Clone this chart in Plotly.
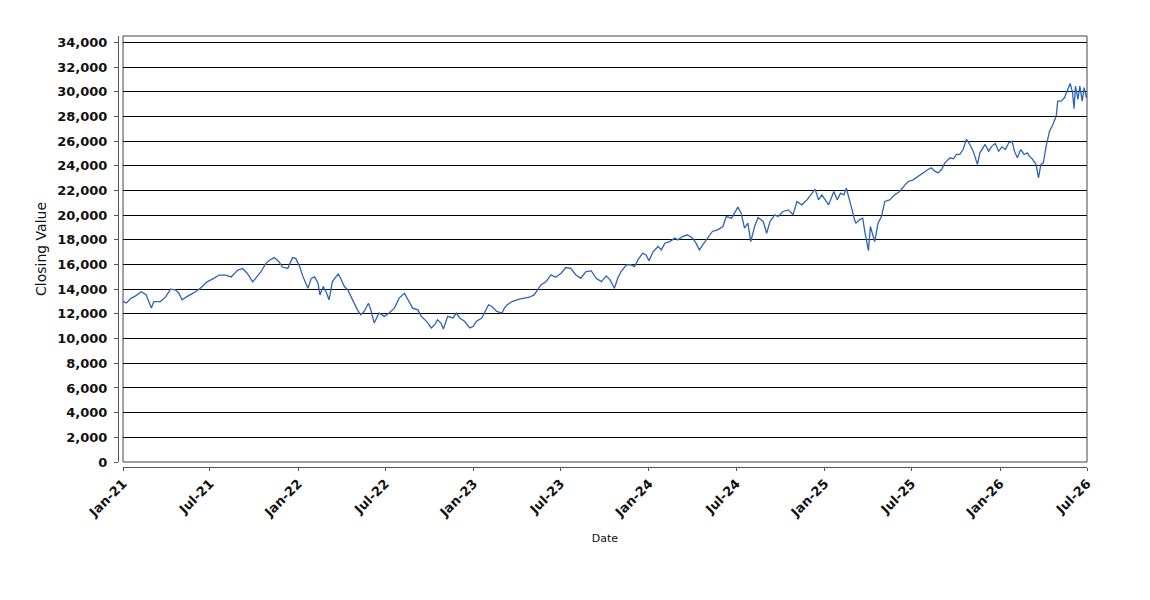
import plotly.graph_objects as go

# closing values, by date
dates_2021 = [
    "2021-01-01", "2021-01-08", "2021-01-18", "2021-01-25", "2021-02-08", "2021-02-18",
    "2021-03-01", "2021-03-06", "2021-03-20", "2021-03-31", "2021-04-10", "2021-04-20",
    "2021-04-27", "2021-05-04", "2021-05-14", "2021-05-28", "2021-06-11", "2021-06-25",
    "2021-07-09", "2021-07-20", "2021-08-03", "2021-08-14", "2021-08-28", "2021-09-07",
    "2021-09-17", "2021-09-28", "2021-10-04", "2021-10-15", "2021-10-25", "2021-11-02",
    "2021-11-12", "2021-11-22", "2021-11-29", "2021-12-10", "2021-12-20", "2021-12-27",
]
close_2021 = [
    13010, 12880, 13280, 13400, 13800, 13550,
    12480, 13000, 13000, 13400, 14000, 13950,
    13700, 13150, 13400, 13700, 14080, 14600,
    14880, 15150, 15150, 15000, 15550, 15680,
    15280, 14600, 14880, 15400, 16080, 16350,
    16560, 16210, 15800, 15680, 16560, 16480,
]

dates_2022 = [
    "2022-01-04", "2022-01-11", "2022-01-21", "2022-01-28", "2022-02-04", "2022-02-11",
    "2022-02-15", "2022-02-22", "2022-03-01", "2022-03-06", "2022-03-13", "2022-03-20",
    "2022-03-25", "2022-03-30", "2022-04-07", "2022-04-14", "2022-04-21", "2022-04-28",
    "2022-05-04", "2022-05-11", "2022-05-18", "2022-05-27", "2022-06-01", "2022-06-08",
    "2022-06-18", "2022-06-29", "2022-07-09", "2022-07-20", "2022-07-30", "2022-08-10",
    "2022-08-17", "2022-08-27", "2022-09-07", "2022-09-14", "2022-09-25", "2022-10-05",
    "2022-10-12", "2022-10-18", "2022-10-25", "2022-10-30", "2022-11-08", "2022-11-19",
    "2022-11-26", "2022-12-03", "2022-12-13", "2022-12-24", "2022-12-31",
]
close_2022 = [
    15800, 15000, 14080, 14880, 15000, 14480,
    13540, 14215, 13680, 13140, 14620, 15020,
    15240, 14890, 14215, 13950, 13410, 12870,
    12330, 11930, 12200, 12870, 12330, 11260,
    12070, 11800, 12070, 12470, 13280, 13680,
    13140, 12470, 12330, 11800, 11400, 10860,
    11130, 11530, 11260, 10780, 11800, 11670,
    12070, 11670, 11400, 10860, 11000,
]

dates_2023 = [
    "2023-01-07", "2023-01-18", "2023-01-25", "2023-02-01", "2023-02-08", "2023-02-18",
    "2023-03-01", "2023-03-06", "2023-03-12", "2023-03-22", "2023-04-06", "2023-04-16",
    "2023-04-27", "2023-05-07", "2023-05-14", "2023-05-21", "2023-06-01", "2023-06-11",
    "2023-06-21", "2023-07-02", "2023-07-12", "2023-07-22", "2023-08-02", "2023-08-12",
    "2023-08-23", "2023-09-03", "2023-09-13", "2023-09-24", "2023-10-04", "2023-10-12",
    "2023-10-21", "2023-10-28", "2023-11-04", "2023-11-15", "2023-11-25", "2023-12-02",
    "2023-12-09", "2023-12-19", "2023-12-26",
]
close_2023 = [
    11400, 11670, 12200, 12740, 12600, 12200,
    12070, 12470, 12740, 13000, 13190, 13270,
    13350, 13540, 13950, 14350, 14620, 15160,
    14970, 15300, 15760, 15700, 15160, 14890,
    15430, 15490, 14890, 14620, 15080, 14760,
    14080, 14890, 15430, 15970, 15970, 15840,
    16380, 16920, 16780,
]

dates_2024 = [
    "2024-01-01", "2024-01-10", "2024-01-20", "2024-01-27", "2024-02-03", "2024-02-13",
    "2024-02-24", "2024-03-01", "2024-03-11", "2024-03-21", "2024-04-01", "2024-04-08",
    "2024-04-15", "2024-04-22", "2024-05-02", "2024-05-12", "2024-05-23", "2024-06-03",
    "2024-06-10", "2024-06-21", "2024-07-01", "2024-07-04", "2024-07-11", "2024-07-18",
    "2024-07-25", "2024-07-31", "2024-08-08", "2024-08-15", "2024-08-26", "2024-09-02",
    "2024-09-09", "2024-09-19", "2024-09-26", "2024-10-06", "2024-10-17", "2024-10-27",
    "2024-11-04", "2024-11-14", "2024-11-25", "2024-12-05", "2024-12-12", "2024-12-19",
    "2024-12-26",
]
close_2024 = [
    16320, 17050, 17460, 17190, 17730, 17860,
    18140, 18000, 18270, 18410, 18140, 17730,
    17190, 17600, 18140, 18680, 18810, 19080,
    19890, 19760, 20430, 20650, 20160, 18950,
    19350, 17860, 19080, 19810, 19490, 18540,
    19490, 20030, 19890, 20300, 20430, 20030,
    21110, 20840, 21240, 21780, 22110, 21240,
    21650,
]

dates_2025 = [
    "2025-01-02", "2025-01-09", "2025-01-20", "2025-01-27", "2025-02-03", "2025-02-10",
    "2025-02-15", "2025-02-20", "2025-02-27", "2025-03-04", "2025-03-07", "2025-03-14",
    "2025-03-21", "2025-03-26", "2025-03-30", "2025-04-02", "2025-04-06", "2025-04-10",
    "2025-04-15", "2025-04-22", "2025-04-29", "2025-05-06", "2025-05-16", "2025-05-27",
    "2025-06-06", "2025-06-17", "2025-06-24", "2025-07-04", "2025-07-14", "2025-07-28",
    "2025-08-04", "2025-08-11", "2025-08-18", "2025-08-25", "2025-09-01", "2025-09-08",
    "2025-09-19", "2025-09-26", "2025-10-02", "2025-10-09", "2025-10-16", "2025-10-23",
    "2025-10-30", "2025-11-06", "2025-11-15", "2025-11-20", "2025-12-01", "2025-12-08",
    "2025-12-15", "2025-12-22", "2025-12-29",
]
close_2025 = [
    21240, 20840, 21920, 21240, 21780, 21650,
    22190, 21510, 20430, 19620, 19350, 19620,
    19760, 18540, 17590, 17130, 19080, 18540,
    17860, 19350, 19890, 21110, 21240, 21650,
    21920, 22460, 22730, 22860, 23140, 23570,
    23700, 23840, 23570, 23430, 23700, 24240,
    24650, 24570, 24920, 24920, 25320, 26140,
    25730, 25190, 24110, 25050, 25730, 25190,
    25600, 25810, 25190,
]

dates_2026 = [
    "2026-01-05", "2026-01-12", "2026-01-19", "2026-01-26", "2026-01-31", "2026-02-06",
    "2026-02-13", "2026-02-20", "2026-02-27", "2026-03-03", "2026-03-10", "2026-03-17",
    "2026-03-22", "2026-03-27", "2026-04-01", "2026-04-07", "2026-04-14", "2026-04-21",
    "2026-04-28", "2026-05-01", "2026-05-08", "2026-05-15", "2026-05-22", "2026-05-27",
    "2026-06-01", "2026-06-04", "2026-06-07", "2026-06-12", "2026-06-16", "2026-06-21",
    "2026-06-25", "2026-06-30",
]
close_2026 = [
    25540, 25320, 25860, 26000, 25190, 24650,
    25320, 24920, 25050, 24780, 24510, 24110,
    23030, 24110, 24240, 25600, 26810, 27350,
    28030, 29240, 29240, 29510, 30190, 30680,
    29920, 28620, 30460, 29380, 30460, 29240,
    30330, 29510,
]

x_ticks = ["2021-01-01", "2021-07-01", "2022-01-01", "2022-07-01", "2023-01-01", "2023-07-01",
           "2024-01-01", "2024-07-01", "2025-01-01", "2025-07-01", "2026-01-01", "2026-07-01"]
x_labels = ["Jan-21", "Jul-21", "Jan-22", "Jul-22", "Jan-23", "Jul-23",
            "Jan-24", "Jul-24", "Jan-25", "Jul-25", "Jan-26", "Jul-26"]
y_ticks = list(range(0, 34001, 2000))

dates = dates_2021 + dates_2022 + dates_2023 + dates_2024 + dates_2025 + dates_2026
close = close_2021 + close_2022 + close_2023 + close_2024 + close_2025 + close_2026

fig = go.Figure()
fig.add_trace(go.Scatter(x=dates, y=close, mode="lines",
                         line=dict(color="#2e64b4", width=1.3)))

tick_font = dict(family="DejaVu Sans", size=13, color="#111111", weight="bold")

# page body has an 8px default margin, so margins are shifted by 8
fig.update_layout(
    width=1150, height=600,
    margin=dict(l=110, r=71, t=28, b=141),
    paper_bgcolor="white", plot_bgcolor="white",
    showlegend=False,
    xaxis=dict(
        domain=[5 / 969, 1], anchor="free", position=0,
        range=["2021-01-01", "2026-07-01"],
        tickvals=x_ticks, ticktext=x_labels, tickangle=-45,
        tickfont=tick_font, ticks="outside", ticklen=3, tickcolor="#555555",
        showline=True, linecolor="#555555", linewidth=1,
        showgrid=False, zeroline=False, automargin=False,
        title=dict(text="Date", font=dict(family="DejaVu Sans", size=11, color="#111111"),
                   standoff=14),
    ),
    yaxis=dict(
        domain=[5 / 431, 1], anchor="free", position=0,
        range=[0, 34520],
        tickvals=y_ticks, tickformat=",",
        tickfont=tick_font, ticks="outside", ticklen=4, tickcolor="#555555",
        ticklabelstandoff=4,
        showline=True, linecolor="#555555", linewidth=1,
        showgrid=True, gridcolor="#000000", gridwidth=1, zeroline=False, automargin=False,
        title=dict(text="Closing Value", font=dict(family="DejaVu Sans", size=14, color="#111111"),
                   standoff=6),
    ),
)

# plot area border
fig.add_shape(type="rect", xref="x domain", yref="y domain", x0=0, x1=1, y0=0, y1=1,
              line=dict(color="#444444", width=1), layer="above")

fig.write_html("out.html")
